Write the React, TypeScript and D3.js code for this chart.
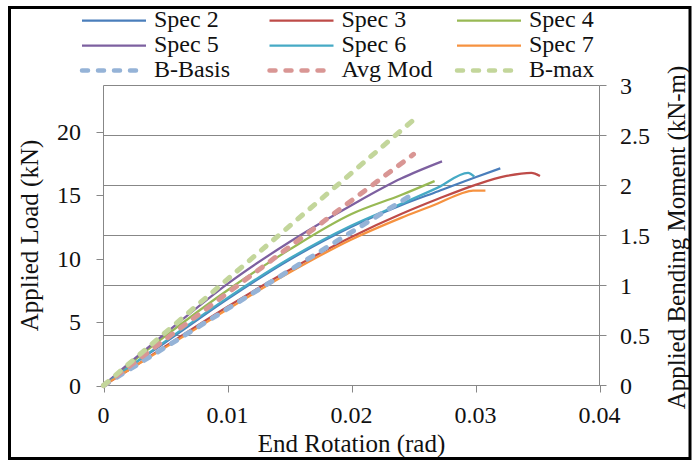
import React from "react";
import * as d3 from "d3";

type Pt = [number, number];

// End rotation (rad), applied load (kN)
const SPEC2: Pt[] = [[0,0],[0.002,1.4],[0.005,3.4],[0.01,6.8],[0.015,9.9],[0.02,12.5],[0.024,14.2],[0.027,15.3],[0.03,16.4],[0.032,17.1]];
const SPEC3: Pt[] = [[0,0],[0.002,1.2],[0.005,3.1],[0.01,6.2],[0.015,9.1],[0.02,11.7],[0.024,13.5],[0.027,14.7],[0.03,15.8],[0.0325,16.5],[0.0345,16.75],[0.0352,16.5]];
const SPEC4: Pt[] = [[0,0],[0.002,1.6],[0.005,3.9],[0.01,7.5],[0.015,10.7],[0.02,13.5],[0.024,15.0],[0.0267,16.1]];
const SPEC5: Pt[] = [[0,0],[0.002,1.7],[0.005,4.1],[0.01,8.0],[0.015,11.3],[0.02,14.2],[0.024,16.3],[0.0273,17.65]];
const SPEC6: Pt[] = [[0,0],[0.002,1.4],[0.005,3.5],[0.01,6.9],[0.015,10.0],[0.02,12.6],[0.024,14.3],[0.027,15.6],[0.0294,16.75],[0.0299,16.45]];
const SPEC7: Pt[] = [[0,0],[0.002,1.2],[0.005,3.0],[0.01,6.0],[0.015,8.9],[0.02,11.5],[0.024,13.2],[0.027,14.35],[0.0288,15.1],[0.0298,15.35],[0.0308,15.35]];
const BBASIS: Pt[] = [[0,0],[0.025,15.1]];
const AVGMOD: Pt[] = [[0,0],[0.025,18.2]];
const BMAX: Pt[] = [[0,0],[0.0251,21.0]];

const SERIES_NAMES = ["Spec 2","Spec 3","Spec 4","Spec 5","Spec 6","Spec 7","B-Basis","Avg Mod","B-max"];
const SERIES_DATA = [SPEC2, SPEC3, SPEC4, SPEC5, SPEC6, SPEC7, BBASIS, AVGMOD, BMAX];
const SERIES_COLORS = ["#4A7EBB","#BE4B48","#98B954","#7D60A0","#46AAC5","#F69240","#95B3D7","#D99694","#C3D69B"];
const SERIES_DASHED = [false,false,false,false,false,false,true,true,true];

const X_TICKS = [0, 0.01, 0.02, 0.03, 0.04];
const X_TICK_LABELS = ["0","0.01","0.02","0.03","0.04"];
const YL_TICKS = [0, 5, 10, 15, 20];
const YR_TICKS = [0, 0.5, 1, 1.5, 2, 2.5, 3];
const YR_TICK_LABELS = ["0","0.5","1","1.5","2","2.5","3"];
const LEVER_ARM = 0.127; // m, moment = load * arm

const TXT: React.CSSProperties = { fontFamily: '"Liberation Serif"' };

export default function App() {
  const left = 103.5, right = 599.5, top = 85.5, bottom = 385.5;
  const x = d3.scaleLinear().domain([0, 0.04]).range([left, right]);
  const yR = d3.scaleLinear().domain([0, 3]).range([bottom, top]);
  const yL = d3.scaleLinear().domain([0, 3 / LEVER_ARM]).range([bottom, top]);
  const line = d3.line<Pt>().x(d => x(d[0])).y(d => yL(d[1])).curve(d3.curveMonotoneX);
  const grid = "#878787";

  return (
    <svg width={694} height={465} style={{ position: "absolute", left: 0, top: 0, background: "#fff" }}>
      <rect x={0} y={0} width={694} height={465} fill="#fff" />
      {YR_TICKS.map((t, i) => (
        <line key={"g" + i} x1={left} x2={right} y1={yR(t)} y2={yR(t)} stroke={grid} strokeWidth={1} />
      ))}
      <line x1={left} x2={left} y1={top} y2={bottom} stroke={grid} />
      <line x1={right} x2={right} y1={top} y2={bottom} stroke={grid} />
      <line x1={left} x2={right} y1={bottom} y2={bottom} stroke={grid} />
      {YL_TICKS.map((t, i) => (
        <g key={"yl" + i}>
          <line x1={left - 7} x2={left} y1={Math.round(yL(t)) + 0.5} y2={Math.round(yL(t)) + 0.5} stroke={grid} />
          <text style={TXT} x={81} y={yL(t)} dy="0.34em" textAnchor="end" fontSize={24} fill="#111">{t}</text>
        </g>
      ))}
      {YR_TICKS.map((t, i) => (
        <g key={"yr" + i}>
          <line x1={right} x2={right + 7} y1={yR(t)} y2={yR(t)} stroke={grid} />
          <text style={TXT} x={620} y={yR(t)} dy="0.34em" textAnchor="start" fontSize={24} fill="#111">{YR_TICK_LABELS[i]}</text>
        </g>
      ))}
      {X_TICKS.map((t, i) => (
        <g key={"x" + i}>
          <line x1={Math.round(x(t)) + 0.5} x2={Math.round(x(t)) + 0.5} y1={bottom} y2={bottom + 7} stroke={grid} />
          <text style={TXT} x={x(t)} y={423} textAnchor="middle" fontSize={24} fill="#111">{X_TICK_LABELS[i]}</text>
        </g>
      ))}
      {SERIES_DATA.map((d, i) => (
        <path key={"s" + i} d={line(d) || ""} fill="none" stroke={SERIES_COLORS[i]}
          strokeWidth={SERIES_DASHED[i] ? 5 : 2.25}
          strokeDasharray={SERIES_DASHED[i] ? "6 10" : undefined}
          strokeLinecap={SERIES_DASHED[i] ? "round" : "butt"}
          strokeLinejoin="round" />
      ))}
      <text style={TXT} x={(left + right) / 2} y={452} textAnchor="middle" fontSize={25} fill="#111">End Rotation (rad)</text>
      <text style={TXT} transform={`translate(38,${(top + bottom) / 2}) rotate(-90)`} textAnchor="middle" fontSize={25} fill="#111">Applied Load (kN)</text>
      <text style={TXT} transform={`translate(685,${(top + bottom) / 2 + 2}) rotate(-90)`} textAnchor="middle" fontSize={25} fill="#111">Applied Bending Moment (kN-m)</text>
      {SERIES_NAMES.map((n, i) => {
        const col = i % 3, row = Math.floor(i / 3);
        const lx = 82 + col * 187.5;
        const ly = 20.5 + row * 25;
        return (
          <g key={"l" + i}>
            <line x1={lx} x2={lx + 64} y1={ly} y2={ly} stroke={SERIES_COLORS[i]}
              strokeWidth={SERIES_DASHED[i] ? 4.5 : 2.25}
              strokeDasharray={SERIES_DASHED[i] ? "6 10" : undefined}
              strokeLinecap={SERIES_DASHED[i] ? "round" : "butt"} />
            <text style={TXT} x={lx + 72} y={ly + 6.5} fontSize={24} fill="#111">{n}</text>
          </g>
        );
      })}
      <rect x={9.5} y={7.5} width={680.5} height={451} fill="none" stroke="#000" strokeWidth={3} />
    </svg>
  );
}
